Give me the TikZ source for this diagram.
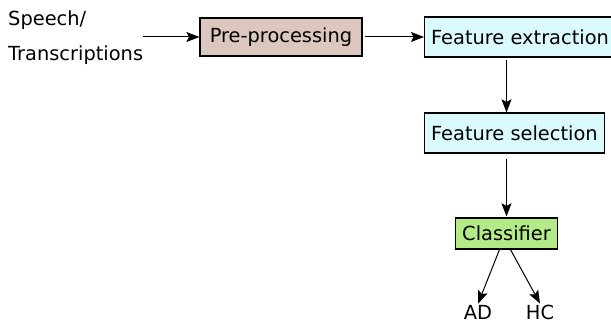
\documentclass[tikz,border=0pt]{standalone}
\usepackage{fontspec}
\setmainfont{DejaVu Sans}
\usepackage{tikz}
\usetikzlibrary{arrows.meta}

\definecolor{prefill}{HTML}{DCC7BF}
\definecolor{featfill}{HTML}{DBFAFD}
\definecolor{clsfill}{HTML}{B4EA88}

\begin{document}
\begin{tikzpicture}[x=1pt, y=-1pt,
    every node/.style={font=\fontsize{19.4}{35}\selectfont},
    stage/.style={draw, line width=1.2pt, rectangle, minimum height=38pt, inner xsep=6.5pt},
    arr/.style={-{Stealth[length=13pt, width=10pt, inset=2.5pt]}, line width=1pt}]
\useasboundingbox (0,0) rectangle (611,323);
\clip (0,0) rectangle (611,323);

% Input text
\node[anchor=west, align=left, inner sep=0pt] (input) at (8,38) {Speech/\\Transcriptions};

% Processing chain
\node[stage, fill=prefill, minimum width=162pt] (pre) at (281,37) {Pre-processing};
\node[stage, fill=featfill, anchor=west, minimum height=40pt] (extract) at (424,37) {Feature extraction};
\node[stage, fill=featfill, anchor=west, minimum height=40pt] (select) at (424,133) {Feature selection};
\node[stage, fill=clsfill, minimum height=31pt, minimum width=99pt] (cls) at (506.5,233.5) {Classifier};

% Output labels
\node[inner sep=1pt] (ad) at (478,312) {AD};
\node[inner sep=1pt] (hc) at (540,312) {HC};

% Arrows
\draw[arr] (input.east |- pre.west) -- (pre.west);
\draw[arr, shorten <=2pt] (pre.east) -- (extract.west);
\draw[arr, shorten <=2pt] (extract.south -| cls) -- (select.north -| cls);
\draw[arr, shorten <=5pt, shorten >=1pt] (select.south -| cls) -- (cls.north);
\draw[arr] ([xshift=-7pt]cls.south) -- (ad.north);
\draw[arr] ([xshift=4pt]cls.south) -- (hc.north);

\end{tikzpicture}
\end{document}
